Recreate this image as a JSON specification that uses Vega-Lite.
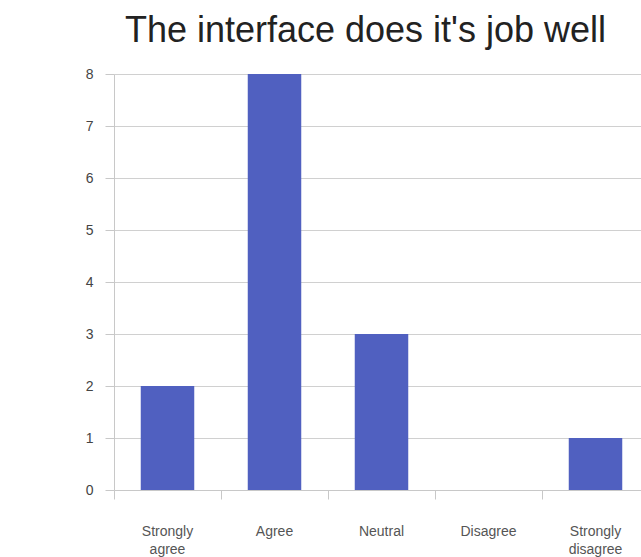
{
  "$schema": "https://vega.github.io/schema/vega-lite/v6.json",
  "autosize": "none",
  "width": 535,
  "height": 416,
  "padding": {"left": 114, "top": 74, "right": 0, "bottom": 67},
  "background": "white",
  "title": {
    "text": "The interface does it's job well",
    "font": "Liberation Sans",
    "fontSize": 36,
    "fontWeight": "normal",
    "color": "#222222",
    "offset": 17,
    "dx": -16
  },
  "data": {
    "values": [
      {"response": "Strongly agree", "count": 2},
      {"response": "Agree", "count": 8},
      {"response": "Neutral", "count": 3},
      {"response": "Disagree", "count": 0},
      {"response": "Strongly disagree", "count": 1}
    ]
  },
  "mark": {"type": "bar", "color": "#5060c0"},
  "encoding": {
    "x": {
      "field": "response",
      "type": "nominal",
      "sort": null,
      "scale": {"paddingInner": 0.5, "paddingOuter": 0.25},
      "axis": {
        "title": null,
        "labelAngle": 0,
        "labelExpr": "split(datum.label, ' ')",
        "labelFont": "Liberation Sans",
        "labelFontSize": 14,
        "labelColor": "#555555",
        "labelLineHeight": 18,
        "labelPadding": 25,
        "bandPosition": -0.5,
        "tickSize": 9,
        "tickColor": "#c8c8c8",
        "domainColor": "#c8c8c8",
        "grid": false
      }
    },
    "y": {
      "field": "count",
      "type": "quantitative",
      "scale": {"domain": [0, 8], "nice": false},
      "axis": {
        "title": null,
        "values": [0, 1, 2, 3, 4, 5, 6, 7, 8],
        "labelOverlap": false,
        "labelFont": "Liberation Sans",
        "labelFontSize": 14,
        "labelColor": "#444444",
        "labelPadding": 12,
        "tickSize": 9,
        "tickColor": "#c8c8c8",
        "domainColor": "#c8c8c8",
        "gridColor": "#d0d0d0"
      }
    }
  },
  "config": {"view": {"stroke": null}}
}
